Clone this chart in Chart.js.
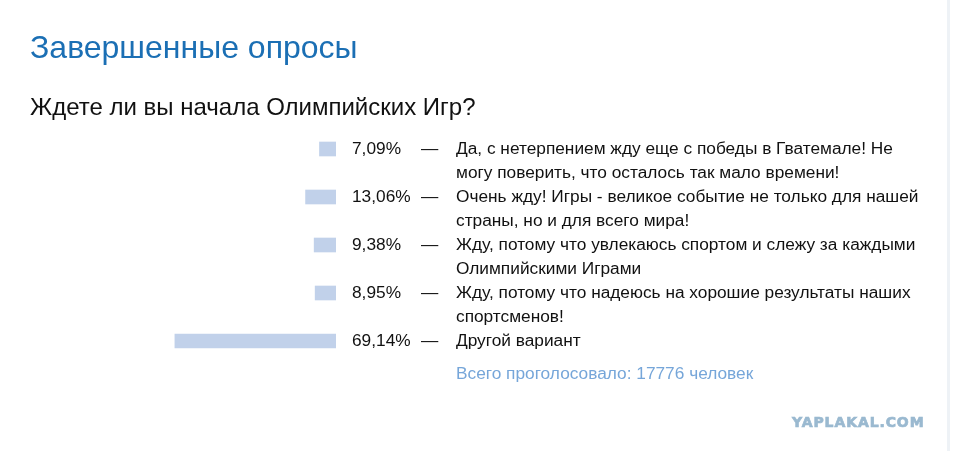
<!DOCTYPE html>
<html>
<head>
<meta charset="utf-8">
<script src="https://cdn.jsdelivr.net/npm/chart.js@4"></script>
<style>
  body { margin: 0; background: #fff; font-family: "Liberation Sans", Arial, sans-serif; }
  #wrap { position: relative; width: 954px; height: 451px; overflow: hidden; }
  #chart { position: absolute; left: 0; top: 0; }
  .title { position: absolute; left: 30px; top: 29px; font-size: 32px; color: #1b6fb4; white-space: nowrap; }
  .question { position: absolute; left: 30px; top: 93px; font-size: 24px; color: #111; white-space: nowrap; }
  .total { position: absolute; left: 456px; top: 363px; font-size: 17.3px; color: #76a6d9; white-space: nowrap; }
  .mark { position: absolute; left: 792px; top: 414px; font-family: "DejaVu Sans", sans-serif; font-size: 14px; font-weight: bold; color: #9ab9d0; letter-spacing: 0.9px; -webkit-text-stroke: 0.7px #9ab9d0; white-space: nowrap; }
  .edge { position: absolute; left: 947px; top: 0; width: 3px; height: 451px; background: #eef2f6; }
</style>
</head>
<body>
<div id="wrap">
  <canvas id="chart" width="954" height="451"></canvas>
  <div class="title">Завершенные опросы</div>
  <div class="question">Ждете ли вы начала Олимпийских Игр?</div>
  <div class="total">Всего проголосовало: 17776 человек</div>
  <div class="mark">YAPLAKAL.COM</div>
  <div class="edge"></div>
</div>
<script>
const answers = [
    ['Да, с нетерпением жду еще с победы в Гватемале! Не', 'могу поверить, что осталось так мало времени!'],
    ['Очень жду! Игры - великое событие не только для нашей', 'страны, но и для всего мира!'],
    ['Жду, потому что увлекаюсь спортом и слежу за каждыми', 'Олимпийскими Играми'],
    ['Жду, потому что надеюсь на хорошие результаты наших', 'спортсменов!'],
    ['Другой вариант']
];
const percents = [7.09, 13.06, 9.38, 8.95, 69.14];
const percentLabels = ['7,09%', '13,06%', '9,38%', '8,95%', '69,14%'];

// подписи справа от полос: процент, тире и текст ответа
const answerText = {
    id: 'answerText',
    afterDatasetsDraw(chart) {
        const c = chart.ctx;
        const yScale = chart.scales.y;
        c.save();
        c.font = '17.3px "Liberation Sans", Arial, sans-serif';
        c.fillStyle = '#111';
        c.textBaseline = 'middle';
        answers.forEach(function(lines, i) {
            const y = yScale.getPixelForValue(i);
            c.fillText(percentLabels[i], 352, y);
            c.fillText('—', 421, y);
            lines.forEach(function(line, j) {
                c.fillText(line, 456, y + j * 24);
            });
        });
        c.restore();
    }
};

new Chart(document.getElementById('chart'), {
    type: 'bar',
    data: {
        labels: answers.map(a => a[0]),
        datasets: [{
            data: percents,
            backgroundColor: '#c1d1ea',
            borderWidth: 0,
            barThickness: 14
        }]
    },
    options: {
        indexAxis: 'y',
        responsive: false,
        animation: false,
        layout: { padding: { left: 103, right: 618, top: 125, bottom: 86 } },
        scales: {
            x: { display: false, min: 0, max: 100, reverse: true },
            y: { display: false }
        },
        plugins: {
            legend: { display: false },
            tooltip: { enabled: false }
        }
    },
    plugins: [answerText]
});
</script>
</body>
</html>
